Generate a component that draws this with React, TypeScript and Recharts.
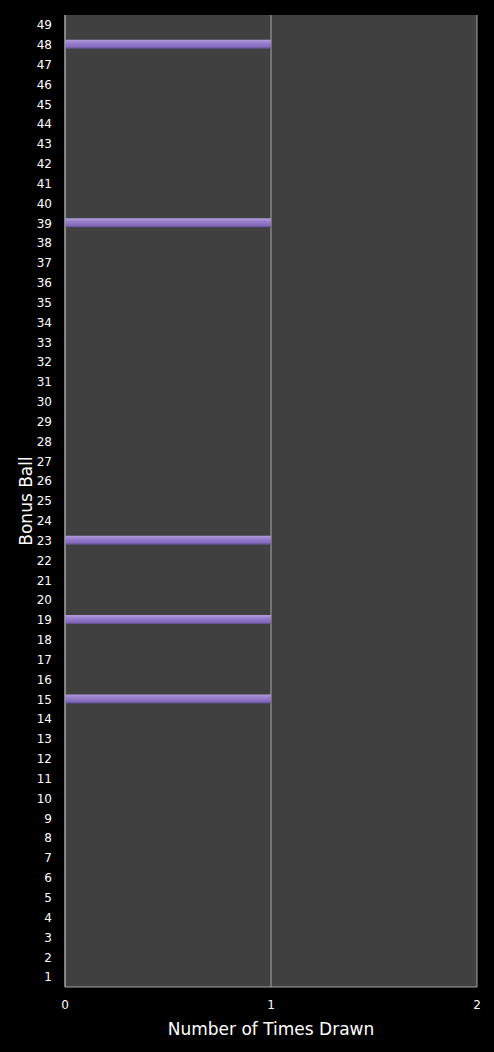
import { Bar, BarChart, CartesianGrid, XAxis, YAxis } from "recharts";

const balls = Array.from({ length: 49 }, (_, i) => String(i + 1));
const drawnBalls = ["15", "19", "23", "39", "48"];
const drawnCounts = [1, 1, 1, 1, 1];
const xTicks = [0, 1, 2];

const data = balls.map((ball) => {
  const idx = drawnBalls.indexOf(ball);
  return { ball, count: idx >= 0 ? drawnCounts[idx] : 0 };
});

const font = "'DejaVu Sans', sans-serif";
const tickStyle = { fontSize: 12, fill: "#ffffff", fontFamily: font };

function YTitle(props: any) {
  const { viewBox } = props;
  const cx = viewBox.x + 26;
  const cy = viewBox.y + viewBox.height / 2;
  return (
    <text
      x={cx}
      y={cy}
      transform={`rotate(-90, ${cx}, ${cy})`}
      textAnchor="middle"
      dominantBaseline="central"
      fill="#ffffff"
      fontSize={17}
      fontFamily={font}
    >
      Bonus Ball
    </text>
  );
}

function XTitle(props: any) {
  const { viewBox } = props;
  return (
    <text
      x={viewBox.x + viewBox.width / 2}
      y={1029}
      textAnchor="middle"
      dominantBaseline="central"
      fill="#ffffff"
      fontSize={17}
      fontFamily={font}
    >
      Number of Times Drawn
    </text>
  );
}

export default function App() {
  return (
    <div style={{ position: "absolute", left: 0, top: 0, width: 494, height: 1052, background: "#000" }}>
      <BarChart
        width={494}
        height={1052}
        data={data}
        layout="vertical"
        margin={{ top: 15, right: 17, left: 0, bottom: 0 }}
      >
        <defs>
          <linearGradient id="barGrad" x1="0" y1="0" x2="0" y2="1">
            <stop offset="0%" stopColor="#b29ddc" />
            <stop offset="35%" stopColor="#987fcc" />
            <stop offset="75%" stopColor="#866cbd" />
            <stop offset="100%" stopColor="#5f4c8f" />
          </linearGradient>
        </defs>
        <CartesianGrid horizontal={false} stroke="#a6a6a6" fill="#404040" />
        <XAxis
          type="number"
          domain={[0, 2]}
          ticks={xTicks}
          height={65}
          tickLine={false}
          tickSize={0}
          tickMargin={13}
          axisLine={{ stroke: "#a6a6a6" }}
          tick={tickStyle}
          label={<XTitle />}
        />
        <YAxis
          type="category"
          dataKey="ball"
          reversed
          width={65}
          interval={0}
          tickLine={false}
          tickSize={0}
          tickMargin={13}
          axisLine={{ stroke: "#a6a6a6" }}
          tick={tickStyle}
          label={<YTitle />}
        />
        <Bar dataKey="count" fill="url(#barGrad)" barSize={9} isAnimationActive={false} />
      </BarChart>
    </div>
  );
}
